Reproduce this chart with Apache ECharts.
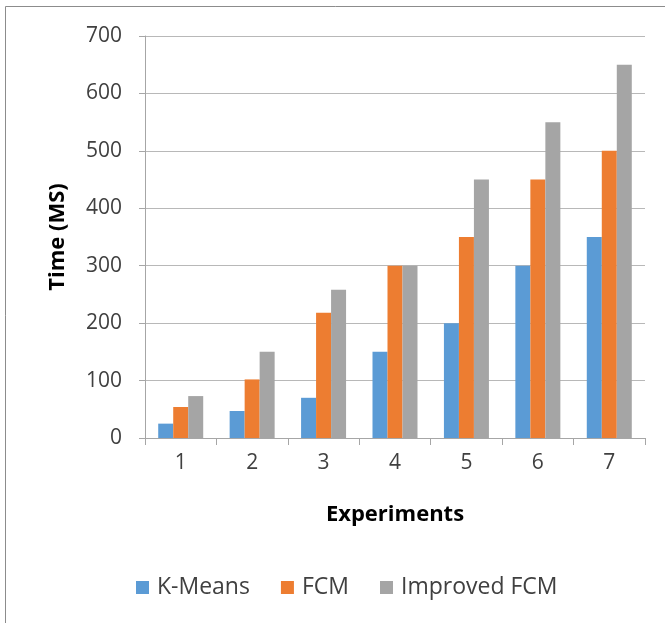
<!DOCTYPE html>
<html><head><meta charset="utf-8">
<script src="https://cdn.jsdelivr.net/npm/echarts@6/dist/echarts.min.js"></script>
<style>html,body{margin:0;padding:0;background:#fff}#c{width:665px;height:623px}</style>
</head><body><div id="c"></div>
<script>
const categories = ['1','2','3','4','5','6','7'];
const kMeans = [25, 47, 70, 150, 200, 300, 350];
const fcm = [54, 102, 218, 300, 350, 450, 500];
const improvedFcm = [73, 150, 258, 300, 450, 550, 650];
const seriesNames = ['K-Means', 'FCM', 'Improved FCM'];
const font = '"Open Sans", sans-serif';
const chart = echarts.init(document.getElementById('c'), null, {renderer:'canvas'});
chart.setOption({
  animation:false,
  backgroundColor:'#fff',
  graphic:[{type:'rect',shape:{x:5.5,y:6.5,width:700,height:700},style:{fill:'none',stroke:'#8c8c8c',lineWidth:1}}],
  color:['#5b9bd5','#ed7d31','#a5a5a5'],
  grid:{left:145,right:20,top:36,bottom:185},
  legend:{bottom:19,left:131,itemWidth:13,itemHeight:13,itemGap:31,icon:'rect',
    textStyle:{fontFamily:font,fontSize:23,color:'#404040',padding:[0,0,0,3]},data:seriesNames},
  xAxis:{type:'category',data:categories,
    name:'Experiments',nameLocation:'middle',nameGap:66,
    nameTextStyle:{fontFamily:font,fontSize:22,fontWeight:'bold',color:'#000'},
    axisLine:{lineStyle:{color:'#a6a6a6'}},
    axisTick:{show:true,length:7,lineStyle:{color:'#a6a6a6'}},
    axisLabel:{fontFamily:font,fontSize:21,color:'#404040',margin:15}},
  yAxis:{type:'value',min:0,max:700,interval:100,
    name:'Time (MS)',nameLocation:'middle',nameGap:76,nameRotate:90,
    nameTextStyle:{fontFamily:font,fontSize:22,fontWeight:'bold',color:'#000'},
    axisLine:{show:true,lineStyle:{color:'#a6a6a6'}},
    axisTick:{show:true,length:6,lineStyle:{color:'#a6a6a6'}},
    axisLabel:{fontFamily:font,fontSize:21,color:'#404040',margin:23},
    splitLine:{lineStyle:{color:'#b8b8b8'}}},
  series:[
    {name:seriesNames[0],type:'bar',data:kMeans,barWidth:15,barGap:'0%'},
    {name:seriesNames[1],type:'bar',data:fcm,barWidth:15,barGap:'0%'},
    {name:seriesNames[2],type:'bar',data:improvedFcm,barWidth:15,barGap:'0%'}
  ]
});
</script></body></html>
